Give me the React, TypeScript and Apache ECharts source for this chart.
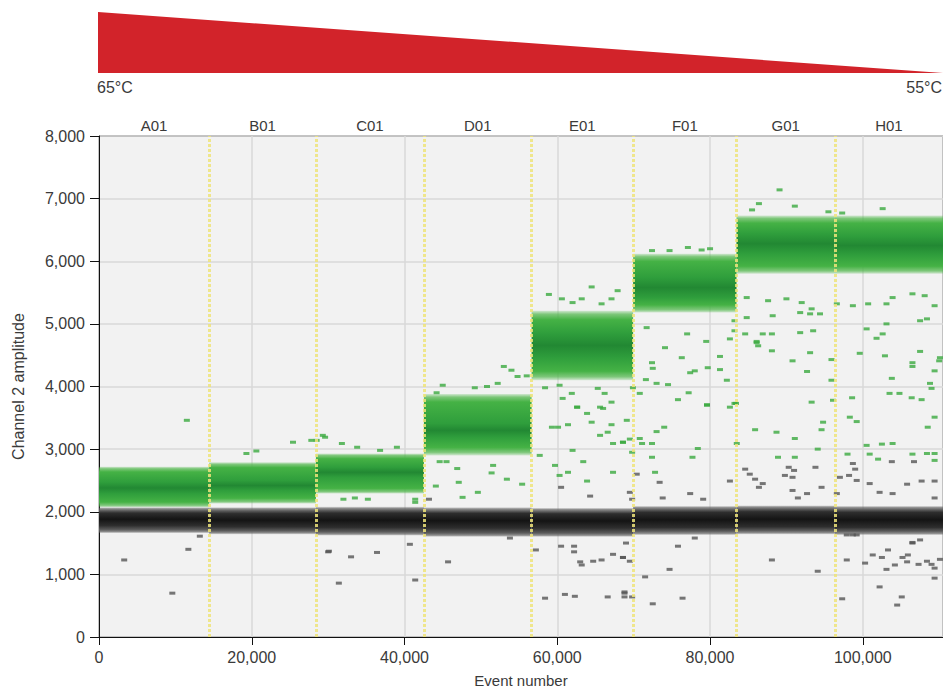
import React, { useEffect, useRef } from "react";
import * as echarts from "echarts";

// ---- Data ----
const wells = ["A01", "B01", "C01", "D01", "E01", "F01", "G01", "H01"];
const wellStart = [0, 14420, 28400, 42540, 56640, 69930, 83460, 96340];
const wellEnd = [14420, 28400, 42540, 56640, 69930, 83460, 96340, 110500];

// positive (green) droplet cluster per well: outer low, core low, core high, outer high
const posLow = [2070, 2130, 2290, 2900, 4100, 5180, 5800, 5800];
const posCoreLow = [2290, 2340, 2550, 3190, 4460, 5420, 6120, 6100];
const posCoreHigh = [2470, 2500, 2710, 3410, 4850, 5740, 6440, 6400];
const posHigh = [2720, 2790, 2930, 3880, 5210, 6120, 6730, 6730];

// negative (black) droplet cluster per well
const negLow = [1660, 1640, 1620, 1600, 1600, 1630, 1640, 1630];
const negCoreLow = [1780, 1760, 1750, 1740, 1740, 1750, 1760, 1750];
const negCoreHigh = [1980, 1970, 1980, 1980, 1970, 1990, 2000, 1990];
const negHigh = [2070, 2070, 2080, 2070, 2060, 2090, 2100, 2090];

// scattered positive droplets [event, amplitude]
const greenOutliers: number[][] = [
  [11500, 3460], [25400, 3110], [27800, 3140], [29300, 3220], [20600, 2970], [19300, 2930],
  [41400, 2150], [41400, 2200], [44100, 2410], [47600, 2230], [49600, 2310], [47100, 2470],
  [45500, 2800], [44600, 2800], [46900, 2690], [51400, 2620], [53400, 2520], [55400, 2440],
  [51600, 2740], [57700, 2900], [59700, 2740], [60300, 2580], [61400, 2630], [63400, 2800],
  [63900, 2490], [67300, 2630], [59300, 3350], [60100, 3350], [61400, 3390], [64500, 3430],
  [67100, 3390], [65600, 3220], [66600, 3270], [67300, 3090], [68600, 3110], [62000, 2980],
  [63900, 3570], [66000, 3650], [62600, 3670], [31800, 3090], [33800, 3030], [28500, 3140],
  [32000, 2200], [35200, 2200], [33500, 2220], [29600, 3190], [36800, 2980], [39000, 3030],
  [64500, 5590], [58900, 5470], [60600, 5400], [62000, 5340], [63200, 5400], [65800, 5320],
  [67100, 5400], [67900, 5530], [53000, 4320], [54000, 4260], [54800, 4160], [56000, 4170],
  [52200, 4050], [50800, 4000], [49200, 3980], [45000, 4020], [44200, 3900], [58400, 3980],
  [60300, 4020], [61900, 3890], [65300, 3970], [66200, 3890], [67100, 3750], [62600, 3670],
  [65600, 3670], [60700, 3810], [89100, 7140], [86400, 6920], [85500, 6820], [91100, 6880],
  [95500, 6790], [97300, 6770], [102600, 6840], [77100, 6220], [78900, 6180], [80000, 6200],
  [72400, 6170], [74700, 6170], [84800, 5420], [87600, 5370], [90000, 5400], [92000, 5340],
  [93300, 5240], [96600, 5320], [98700, 5290], [100700, 5320], [103100, 5320], [103900, 5420],
  [106500, 5480], [108100, 5450], [109400, 5290], [84800, 5100], [88200, 5130], [91800, 5180],
  [93100, 5160], [94400, 5160], [83200, 5050], [83200, 4890], [84600, 4840], [86900, 4840],
  [88100, 4840], [91800, 4860], [93500, 4890], [100500, 4920], [101800, 4770], [102600, 4840],
  [107500, 5050], [108400, 5080], [103100, 5000], [86100, 4700], [86300, 4650], [88100, 4570],
  [93100, 4540], [95900, 4430], [90800, 4410], [92700, 4240], [99600, 4530], [102900, 4490],
  [107500, 4560], [110100, 4460], [106500, 4380], [106500, 4320], [103800, 4130], [108800, 4050],
  [109000, 3970], [109400, 4250], [110000, 4410], [95900, 4100], [98600, 3820], [96100, 3780],
  [103500, 3890], [104800, 3890], [106400, 3820], [107700, 3790], [71700, 4940], [74100, 4620],
  [76300, 4460], [72400, 4380], [72500, 4290], [77400, 4220], [78000, 4250], [79700, 4300],
  [77000, 4840], [79500, 4720], [81300, 4480], [81300, 4270], [82200, 4100], [71600, 4110],
  [73000, 4050], [74500, 4030], [77200, 3900], [75800, 3790], [79600, 3710], [82600, 3670],
  [83200, 3730], [70800, 3890], [69900, 3980], [82600, 4760], [86100, 4720], [79600, 3700],
  [83400, 3730], [85900, 3310], [88700, 3270], [91100, 3170], [94800, 3430], [94600, 3310],
  [94100, 3000], [98300, 3510], [99200, 3440], [109400, 3510], [108500, 3350], [100500, 3060],
  [102500, 3080], [103900, 3090], [100900, 2920], [102000, 2840], [98000, 2920], [106500, 2920],
  [108400, 2930], [109400, 2820], [109400, 2930], [69100, 3460], [68600, 3110], [69500, 3160],
  [70800, 3170], [71100, 3090], [72400, 3090], [73000, 3280], [74000, 3350], [69800, 2950],
  [72400, 2870], [72800, 2630], [78400, 3010], [77700, 2870], [88900, 2870], [91100, 2870],
  [83500, 3090], [93300, 3750],
];

// scattered negative droplets [event, amplitude]
const grayOutliers: number[][] = [
  [3300, 1230], [11700, 1400], [9600, 700], [13200, 1610], [30000, 1360], [30100, 1370],
  [33000, 1280], [36400, 1350], [31400, 860], [40700, 1480], [41400, 910], [45700, 1200],
  [53800, 1580], [57200, 1390], [60500, 1450], [62200, 1360], [62200, 1450], [63000, 1200],
  [63200, 1150], [64700, 1210], [65800, 1230], [67300, 1320], [68600, 1270], [58400, 620],
  [61000, 680], [62300, 650], [66600, 640], [68800, 720], [43200, 2200], [60500, 2390],
  [64300, 2250], [84600, 2680], [85200, 2600], [85900, 2520], [86900, 2450], [86400, 2390],
  [82600, 2490], [89800, 2580], [90300, 2710], [91000, 2660], [90800, 2550], [90800, 2340],
  [92700, 2290], [91500, 2220], [93800, 2710], [94600, 2390], [96600, 2290], [97000, 2550],
  [98200, 2580], [98700, 2770], [99000, 2680], [99200, 2500], [100900, 2450], [102200, 2310],
  [103800, 2800], [103900, 2290], [105800, 2440], [106700, 2800], [107700, 2490], [109400, 2490],
  [109400, 2220], [70400, 2600], [69500, 2310], [69800, 2200], [73400, 2470], [73800, 2220],
  [77400, 2290], [79100, 2200], [88100, 1230], [94100, 1050], [97900, 1230], [100300, 1180],
  [101300, 1310], [102500, 1270], [103300, 1390], [103100, 1080], [104200, 1150], [105200, 1270],
  [105900, 1310], [105800, 1200], [106500, 1510], [107500, 1550], [107300, 1160], [108400, 1210],
  [109000, 1160], [109400, 1100], [109400, 940], [110100, 1240], [102200, 800], [105100, 640],
  [104500, 510], [97300, 610], [76400, 620], [72500, 530], [68800, 700], [68800, 640],
  [69800, 640], [71500, 960], [74700, 1080], [75800, 1450], [78000, 1580], [68600, 1270],
  [69500, 1210], [69000, 1500], [97900, 1630], [98700, 1630], [99200, 1630], [106500, 1500],
];

const xTicksInterval = 20000;
const yTicksInterval = 1000;

const FONT = "'Liberation Sans', Arial, Helvetica, sans-serif";
const TXT = "#3a3a3a";

function bandData(lo: number[], cl: number[], ch: number[], hi: number[]) {
  return wells.map((_, i) => [wellStart[i], wellEnd[i], lo[i], cl[i], ch[i], hi[i]]);
}

function makeBandRenderer(faded: string, soft: string, outer: string, core: string, dark: string) {
  return (params: any, api: any) => {
    const s = api.value(0), e = api.value(1), lo = api.value(2), cl = api.value(3), ch = api.value(4), hi = api.value(5);
    const p1 = api.coord([s, hi]);
    const p2 = api.coord([e, lo]);
    const h = p2[1] - p1[1];
    const yCh = api.coord([s, ch])[1];
    const yCl = api.coord([s, cl])[1];
    const fCh = Math.max(0.2, Math.min(0.8, (yCh - p1[1]) / h));
    const fCl = Math.max(fCh, Math.min(0.85, (yCl - p1[1]) / h));
    const stops = [
      { offset: 0, color: faded },
      { offset: 0.05, color: soft },
      { offset: 0.13, color: outer },
      { offset: fCh, color: core },
      { offset: (fCh + fCl) / 2, color: dark },
      { offset: fCl, color: core },
      { offset: 0.87, color: outer },
      { offset: 0.95, color: soft },
      { offset: 1, color: faded },
    ];
    return {
      type: "rect",
      shape: { x: p1[0], y: p1[1], width: p2[0] - p1[0], height: h },
      style: { fill: new echarts.graphic.LinearGradient(0, 0, 0, 1, stops) },
    };
  };
}

export default function App() {
  const ref = useRef<HTMLDivElement>(null);
  useEffect(() => {
    if (!ref.current) return;
    const chart = echarts.init(ref.current, undefined, { renderer: "svg" });
    const fmt = (v: number) => v.toLocaleString("en-US");
    chart.setOption({
      animation: false,
      backgroundColor: "#ffffff",
      textStyle: { fontFamily: FONT },
      grid: {
        left: 99, top: 136, right: 0, bottom: 51, show: true,
        outerBoundsMode: "none", containLabel: false,
        backgroundColor: "#f2f2f2", borderColor: "#111", borderWidth: 1,
      },
      xAxis: {
        type: "value", min: 0, max: 110500, interval: xTicksInterval,
        name: "Event number", nameLocation: "middle", nameGap: 36,
        nameTextStyle: { fontSize: 15, color: TXT, fontFamily: FONT },
        axisLine: { show: true, lineStyle: { color: "#111", width: 1 } },
        axisTick: { show: true, length: 8, lineStyle: { color: "#111" } },
        axisLabel: { fontSize: 16, color: TXT, margin: 12, formatter: fmt, fontFamily: FONT, showMaxLabel: false },
        splitLine: { show: true, lineStyle: { color: "#d8d8d8", width: 1.5 } },
      },
      yAxis: {
        type: "value", min: 0, max: 8000, interval: yTicksInterval,
        name: "Channel 2 amplitude", nameLocation: "middle", nameGap: 73, nameRotate: 90,
        nameTextStyle: { fontSize: 16, color: TXT, fontFamily: FONT },
        axisLine: { show: true, lineStyle: { color: "#111", width: 1 } },
        axisTick: { show: true, length: 9, lineStyle: { color: "#111" } },
        axisLabel: { fontSize: 16, color: TXT, margin: 14, formatter: fmt, fontFamily: FONT },
        splitLine: { show: true, lineStyle: { color: "#d8d8d8", width: 1.5 } },
      },
      graphic: [
        {
          type: "polygon", silent: true,
          shape: { points: [[98, 12], [98, 73], [943, 73]] },
          style: { fill: "#d2232a" },
        },
        {
          type: "text", left: 97, top: 79,
          style: { text: "65°C", fontSize: 16, fill: TXT, fontFamily: FONT },
        },
        {
          type: "text", right: 1, top: 79,
          style: { text: "55°C", fontSize: 16, fill: TXT, fontFamily: FONT },
        },
      ],
      series: [
        {
          type: "custom", name: "negative", clip: true, z: 2,
          renderItem: makeBandRenderer("rgba(120,120,120,0.2)", "rgba(100,100,100,0.7)", "#5c5c5c", "#2e2e2e", "#141414"),
          encode: { x: [0, 1], y: [2, 5] },
          data: bandData(negLow, negCoreLow, negCoreHigh, negHigh),
        },
        {
          type: "custom", name: "positive", clip: true, z: 2,
          renderItem: makeBandRenderer("rgba(80,185,75,0.2)", "rgba(75,180,70,0.7)", "#45b245", "#2f9e3c", "#228833"),
          encode: { x: [0, 1], y: [2, 5] },
          data: bandData(posLow, posCoreLow, posCoreHigh, posHigh),
        },
        {
          type: "scatter", name: "gray", z: 3,
          symbol: "rect", symbolSize: [6, 3],
          itemStyle: { color: "#555555" },
          data: grayOutliers,
        },
        {
          type: "scatter", name: "green", z: 3,
          symbol: "rect", symbolSize: [6, 3],
          itemStyle: { color: "#3aa93e" },
          data: greenOutliers,
        },
        {
          type: "custom", name: "wells", clip: false, z: 5,
          encode: { x: 0, y: 1 },
          data: wells.map((w, i) => [(wellStart[i] + wellEnd[i]) / 2, 8000, w]),
          renderItem: (params: any, api: any) => {
            const p = api.coord([api.value(0), api.value(1)]);
            return {
              type: "text",
              x: p[0], y: p[1] - 11,
              style: {
                text: wells[params.dataIndex],
                align: "center", verticalAlign: "middle",
                textAlign: "center", textVerticalAlign: "middle",
                fontSize: 15, fill: TXT, fontFamily: FONT,
              },
            };
          },
          markLine: {
            silent: true, symbol: "none", label: { show: false },
            lineStyle: { color: "#efe47a", type: [3, 2], width: 3, opacity: 0.85 },
            data: wellStart.slice(1).map((x) => ({ xAxis: x })),
          },
        },
      ],
    });
    return () => chart.dispose();
  }, []);
  return (
    <div
      ref={ref}
      style={{ position: "absolute", left: 0, top: 0, width: 943, height: 688 }}
    />
  );
}
